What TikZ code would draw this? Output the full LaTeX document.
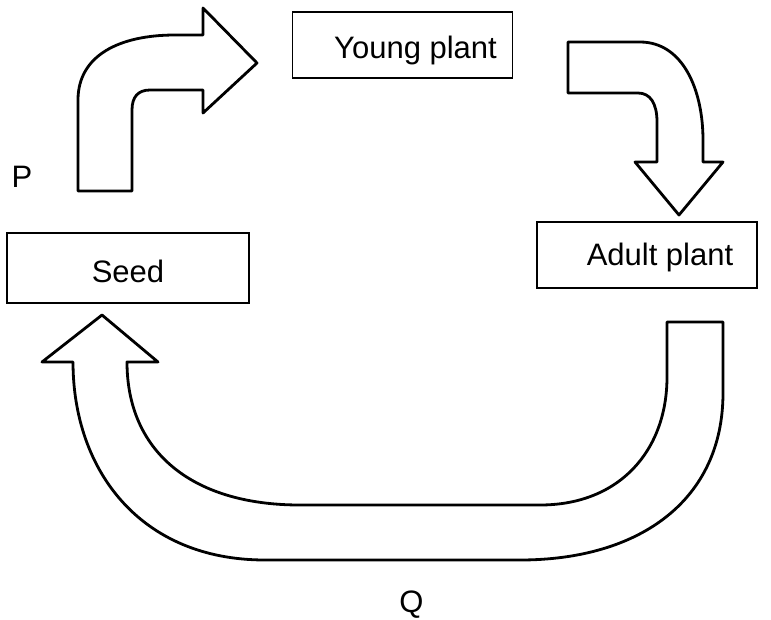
\documentclass[tikz,border=0pt]{standalone}
\usepackage{fontspec}
\setmainfont{Liberation Sans}
\begin{document}
\begin{tikzpicture}[x=1pt,y=-1pt,
  box/.style={draw, line width=1.4pt, inner sep=0pt},
  bigarrow/.style={draw, line width=2.8pt, line join=round, fill=white},
  lbl/.style={font=\fontsize{31}{35}\selectfont, anchor=base, inner sep=0pt}]
\useasboundingbox (0,0) rectangle (771,619);
% boxes
\node[box, minimum width=220pt, minimum height=66pt] (young) at (402.5,45) {};
\node[lbl] (youngtxt) at (415.5,58) {Young plant};
\node[box, minimum width=242pt, minimum height=70pt] (seed) at (128,268) {};
\node[lbl] (seedtxt) at (128,282) {Seed};
\node[box, minimum width=220pt, minimum height=66pt] (adult) at (647,255) {};
\node[lbl] (adulttxt) at (660,265) {Adult plant};
\node[lbl] (p) at (22,187) {P};
\node[lbl] (q) at (411.5,612) {Q};
% arrow seed -> young
\draw[bigarrow] (78,191) -- (78,100) .. controls (78,55) and (120,35) .. (175,35) -- (203,35) -- (203,8) -- (257,63) -- (203,113) -- (203,90) -- (150,90) .. controls (138,90) and (132,97) .. (132,110) -- (132,191) -- cycle;
% arrow young -> adult
\draw[bigarrow] (568,42) -- (640,42) .. controls (683,42) and (703,90) .. (703,140) -- (703,162) -- (723,162) -- (679,215) -- (635,162) -- (657,162) -- (657,122) .. controls (657,103) and (650,93) .. (638,93) -- (568,93) -- cycle;
% arrow adult -> seed
\draw[bigarrow] (667,322) -- (723,322) -- (723,393) .. controls (723,500) and (640,560) .. (520,560) -- (265,560) .. controls (140,560) and (73,470) .. (73,362) -- (42,362) -- (102,315) -- (158,362) -- (127,362) .. controls (127,450) and (190,505) .. (300,505) -- (540,505) .. controls (620,505) and (667,450) .. (667,377) -- cycle;
\end{tikzpicture}
\end{document}
